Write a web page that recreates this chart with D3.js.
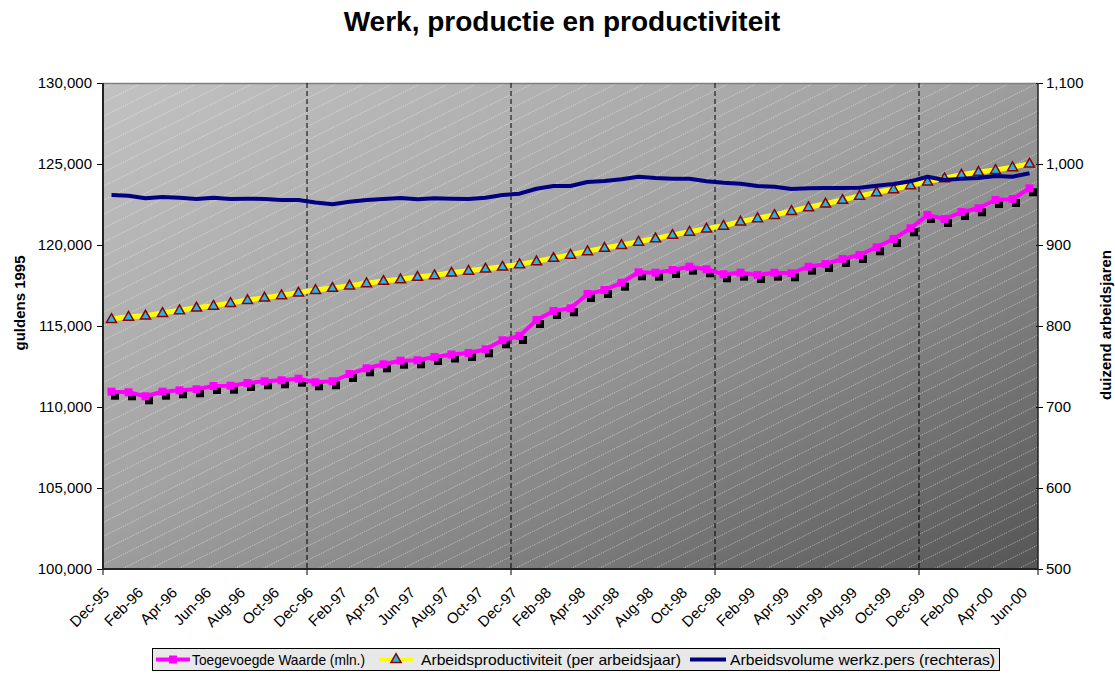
<!DOCTYPE html>
<html><head><meta charset="utf-8">
<script src="https://cdn.jsdelivr.net/npm/d3@7"></script>
<style>body{margin:0;background:#fff}svg{display:block;font-family:"Liberation Sans",Arial,sans-serif}</style>
</head><body><svg id="c" width="1115" height="673"></svg>
<script>
const categories = ["Dec-95","Jan-96","Feb-96","Mar-96","Apr-96","May-96","Jun-96","Jul-96","Aug-96","Sep-96","Oct-96","Nov-96",
"Dec-96","Jan-97","Feb-97","Mar-97","Apr-97","May-97","Jun-97","Jul-97","Aug-97","Sep-97","Oct-97","Nov-97",
"Dec-97","Jan-98","Feb-98","Mar-98","Apr-98","May-98","Jun-98","Jul-98","Aug-98","Sep-98","Oct-98","Nov-98",
"Dec-98","Jan-99","Feb-99","Mar-99","Apr-99","May-99","Jun-99","Jul-99","Aug-99","Sep-99","Oct-99","Nov-99",
"Dec-99","Jan-00","Feb-00","Mar-00","Apr-00","May-00","Jun-00"];
const toegevoegdeWaarde = [110945,110908,110661,110945,111031,111093,111297,111315,111482,111587,111649,111747,
111525,111587,112037,112389,112636,112858,112883,113087,113240,113334,113562,114118,
114383,115371,115926,116093,116976,117222,117673,118315,118291,118457,118661,118501,
118192,118291,118149,118291,118254,118661,118827,119136,119383,119858,120370,121031,
121852,121605,122037,122266,122778,122840,123500];
const arbeidsproductiviteit = [115430,115570,115640,115800,115970,116130,116250,116420,116600,116750,116900,117060,
117220,117350,117490,117640,117780,117880,118030,118130,118290,118410,118540,118660,
118810,118990,119200,119400,119610,119820,120000,120200,120410,120620,120820,121010,
121190,121440,121650,121850,122100,122330,122550,122780,123030,123250,123440,123690,
123910,124120,124340,124510,124630,124800,125020];
const arbeidsvolume = [961.7,960.9,957.6,959.3,958.4,956.8,958.4,956.8,957.2,956.8,955.6,955.6,
952.5,950.4,953.5,955.6,956.8,958.0,956.5,957.8,957.2,956.8,958.4,961.7,
963.4,969.5,972.8,972.8,977.8,979.0,981.1,984.3,982.7,981.9,981.9,978.7,
976.9,975.7,972.8,972.0,969.1,970.0,970.4,970.4,970.7,973.2,975.3,978.6,
984.3,980.2,981.9,982.7,985.2,984.3,988.5];
const leftTicks = [100000,105000,110000,115000,120000,125000,130000];
const rightTicks = [500,600,700,800,900,1000,1100];
const gridCategories = ["Dec-96","Dec-97","Dec-98","Dec-99"];
const seriesNames = ["Toegevoegde Waarde (mln.)","Arbeidsproductiviteit (per arbeidsjaar)","Arbeidsvolume werkz.pers (rechteras)"];
const titleText = "Werk, productie en productiviteit";
const leftTitle = "guldens 1995";
const rightTitle = "duizend arbeidsjaren";

const svg = d3.select("#c");
const L = 103, R = 1038, T = 83, B = 569;
const x = d3.scaleBand().domain(categories).range([L, R]).padding(0);
const cx = c => x(c) + x.bandwidth() / 2;
const yL = d3.scaleLinear().domain([100000, 130000]).range([B, T]);
const yR = d3.scaleLinear().domain([500, 1100]).range([B, T]);

const defs = svg.append("defs");
const grad = defs.append("linearGradient").attr("id", "bg").attr("x1", 0).attr("y1", 0).attr("x2", 1).attr("y2", 1);
[[0, "#c2c2c2"], [0.45, "#a2a2a2"], [0.62, "#8c8c8c"], [1, "#555555"]].forEach(s =>
  grad.append("stop").attr("offset", s[0]).attr("stop-color", s[1]));
const pat = defs.append("pattern").attr("id", "hatch").attr("patternUnits", "userSpaceOnUse")
  .attr("width", 28).attr("height", 14);
pat.append("line").attr("x1", -2).attr("y1", 15).attr("x2", 30).attr("y2", -1)
  .attr("stroke", "#fff").attr("stroke-opacity", 0.5).attr("stroke-width", 1).attr("stroke-dasharray", "1.2,1.2");
defs.append("clipPath").attr("id", "clip").append("rect").attr("x", L).attr("y", T).attr("width", R - L).attr("height", B - T);

// plot background
svg.append("rect").attr("x", L).attr("y", T).attr("width", R - L).attr("height", B - T).attr("fill", "url(#bg)");
svg.append("rect").attr("x", L).attr("y", T).attr("width", R - L).attr("height", B - T).attr("fill", "url(#hatch)");
svg.append("line").attr("x1", L).attr("x2", R).attr("y1", T + 0.5).attr("y2", T + 0.5).attr("stroke", "#808080").attr("stroke-width", 1.5);

// gridlines
svg.append("g").selectAll("line").data(gridCategories).join("line")
  .attr("x1", d => x(d)).attr("x2", d => x(d)).attr("y1", T).attr("y2", B)
  .attr("stroke", "#000").attr("stroke-width", 1).attr("stroke-dasharray", "5,3");

// title
svg.append("text").attr("x", 562).attr("y", 31).attr("text-anchor", "middle")
  .attr("font-size", 28).attr("font-weight", "bold").text(titleText);

// left axis
const gl = svg.append("g").attr("transform", `translate(${L},0)`)
  .call(d3.axisLeft(yL).tickValues(leftTicks).tickFormat(d3.format(",")).tickSize(6).tickPadding(5).tickSizeOuter(0));
gl.select(".domain").remove();
gl.selectAll("text").attr("font-size", 15).attr("font-family", "Liberation Sans, Arial, sans-serif").attr("fill", "#000");
gl.selectAll("line").attr("stroke", "#000");
// right axis
const gr = svg.append("g").attr("transform", `translate(${R},0)`)
  .call(d3.axisRight(yR).tickValues(rightTicks).tickFormat(d3.format(",")).tickSize(5).tickPadding(3).tickSizeOuter(0));
gr.select(".domain").remove();
gr.selectAll("line").attr("x1", -2).attr("stroke", "#000");
gr.selectAll("text").attr("font-size", 15).attr("font-family", "Liberation Sans, Arial, sans-serif").attr("fill", "#000");
// bottom axis labels
const gb = svg.append("g").attr("transform", `translate(0,${B})`)
  .call(d3.axisBottom(x).tickValues(categories.filter((d, i) => i % 2 === 0)).tickSize(0).tickSizeOuter(0));
gb.select(".domain").remove();
gb.selectAll("text").attr("font-size", 15).attr("font-family", "Liberation Sans, Arial, sans-serif").attr("fill", "#000")
  .attr("text-anchor", "end").attr("x", 0).attr("y", 0).attr("dy", "0.35em")
  .attr("transform", "translate(-5,21) rotate(-45)");
// x tick marks at year boundaries
const tickCats = [categories[0]].concat(gridCategories);
svg.append("g").selectAll("line").data(tickCats).join("line")
  .attr("x1", d => x(d)).attr("x2", d => x(d)).attr("y1", B).attr("y2", B + 6).attr("stroke", "#000");
svg.append("line").attr("x1", R).attr("x2", R).attr("y1", B).attr("y2", B + 6).attr("stroke", "#000");

// axis lines
svg.append("line").attr("x1", L).attr("x2", L).attr("y1", T).attr("y2", B + 1).attr("stroke", "#222").attr("stroke-width", 2);
svg.append("line").attr("x1", R).attr("x2", R).attr("y1", T).attr("y2", B + 1).attr("stroke", "#222").attr("stroke-width", 1.5);
svg.append("line").attr("x1", L).attr("x2", R).attr("y1", B).attr("y2", B).attr("stroke", "#222").attr("stroke-width", 2);

// axis titles
svg.append("text").attr("transform", "translate(25,303) rotate(-90)").attr("text-anchor", "middle")
  .attr("font-size", 15).attr("font-weight", "bold").text(leftTitle);
svg.append("text").attr("transform", "translate(1111,325) rotate(-90)").attr("text-anchor", "middle")
  .attr("font-size", 15).attr("font-weight", "bold").text(rightTitle);

// series
const plot = svg.append("g").attr("clip-path", "url(#clip)");
const lineL = d3.line().x((d, i) => cx(categories[i])).y(d => yL(d));
const lineR = d3.line().x((d, i) => cx(categories[i])).y(d => yR(d));
const tri = d3.symbol().type(d3.symbolTriangle).size(44);
const sq = 8;

// magenta (marker shadows, line, markers)
plot.append("g").selectAll("rect").data(toegevoegdeWaarde).join("rect")
  .attr("x", (d, i) => cx(categories[i]) - sq / 2 + 3.5).attr("y", d => yL(d) - sq / 2 + 4)
  .attr("width", sq).attr("height", sq).attr("fill", "#000");
plot.append("path").datum(toegevoegdeWaarde).attr("d", lineL).attr("fill", "none")
  .attr("stroke", "#ff00ff").attr("stroke-width", 4).attr("stroke-linejoin", "round");
plot.append("g").selectAll("rect").data(toegevoegdeWaarde).join("rect")
  .attr("x", (d, i) => cx(categories[i]) - sq / 2).attr("y", d => yL(d) - sq / 2)
  .attr("width", sq).attr("height", sq).attr("fill", "#ff00ff");

// yellow
plot.append("path").datum(arbeidsproductiviteit).attr("d", lineL).attr("fill", "none")
  .attr("stroke", "#ffff00").attr("stroke-width", 5).attr("stroke-linejoin", "round");
plot.append("g").selectAll("path").data(arbeidsproductiviteit).join("path")
  .attr("d", tri).attr("transform", (d, i) => `translate(${cx(categories[i])},${yL(d) + 0.5})`)
  .attr("fill", "#1fb8e8").attr("stroke", "#8b0000").attr("stroke-width", 1.5);

// navy
plot.append("path").datum(arbeidsvolume).attr("d", lineR).attr("fill", "none")
  .attr("stroke", "#000080").attr("stroke-width", 4).attr("stroke-linejoin", "round");

// legend
const lg = svg.append("g");
lg.append("rect").attr("x", 152.5).attr("y", 648.5).attr("width", 847).attr("height", 22)
  .attr("fill", "#e8e8e8").attr("stroke", "#000").attr("stroke-width", 1);
const ly = 659.5;
lg.append("line").attr("x1", 156).attr("x2", 190).attr("y1", ly).attr("y2", ly).attr("stroke", "#ff00ff").attr("stroke-width", 4);
lg.append("rect").attr("x", 169).attr("y", ly - 4).attr("width", 8).attr("height", 8).attr("fill", "#ff00ff");
lg.append("line").attr("x1", 379).attr("x2", 413).attr("y1", ly).attr("y2", ly).attr("stroke", "#ffff00").attr("stroke-width", 4);
lg.append("path").attr("d", tri).attr("transform", `translate(396,${ly})`).attr("fill", "#1fb8e8").attr("stroke", "#8b0000").attr("stroke-width", 1.5);
lg.append("line").attr("x1", 690).attr("x2", 726).attr("y1", ly).attr("y2", ly).attr("stroke", "#000080").attr("stroke-width", 4);
const legTexts = [[192, 173], [421, 260], [730, 265]];
seriesNames.forEach((n, i) => {
  lg.append("text").attr("x", legTexts[i][0]).attr("y", 665).attr("font-size", 15)
    .attr("textLength", legTexts[i][1]).attr("lengthAdjust", "spacingAndGlyphs").text(n);
});
</script></body></html>
